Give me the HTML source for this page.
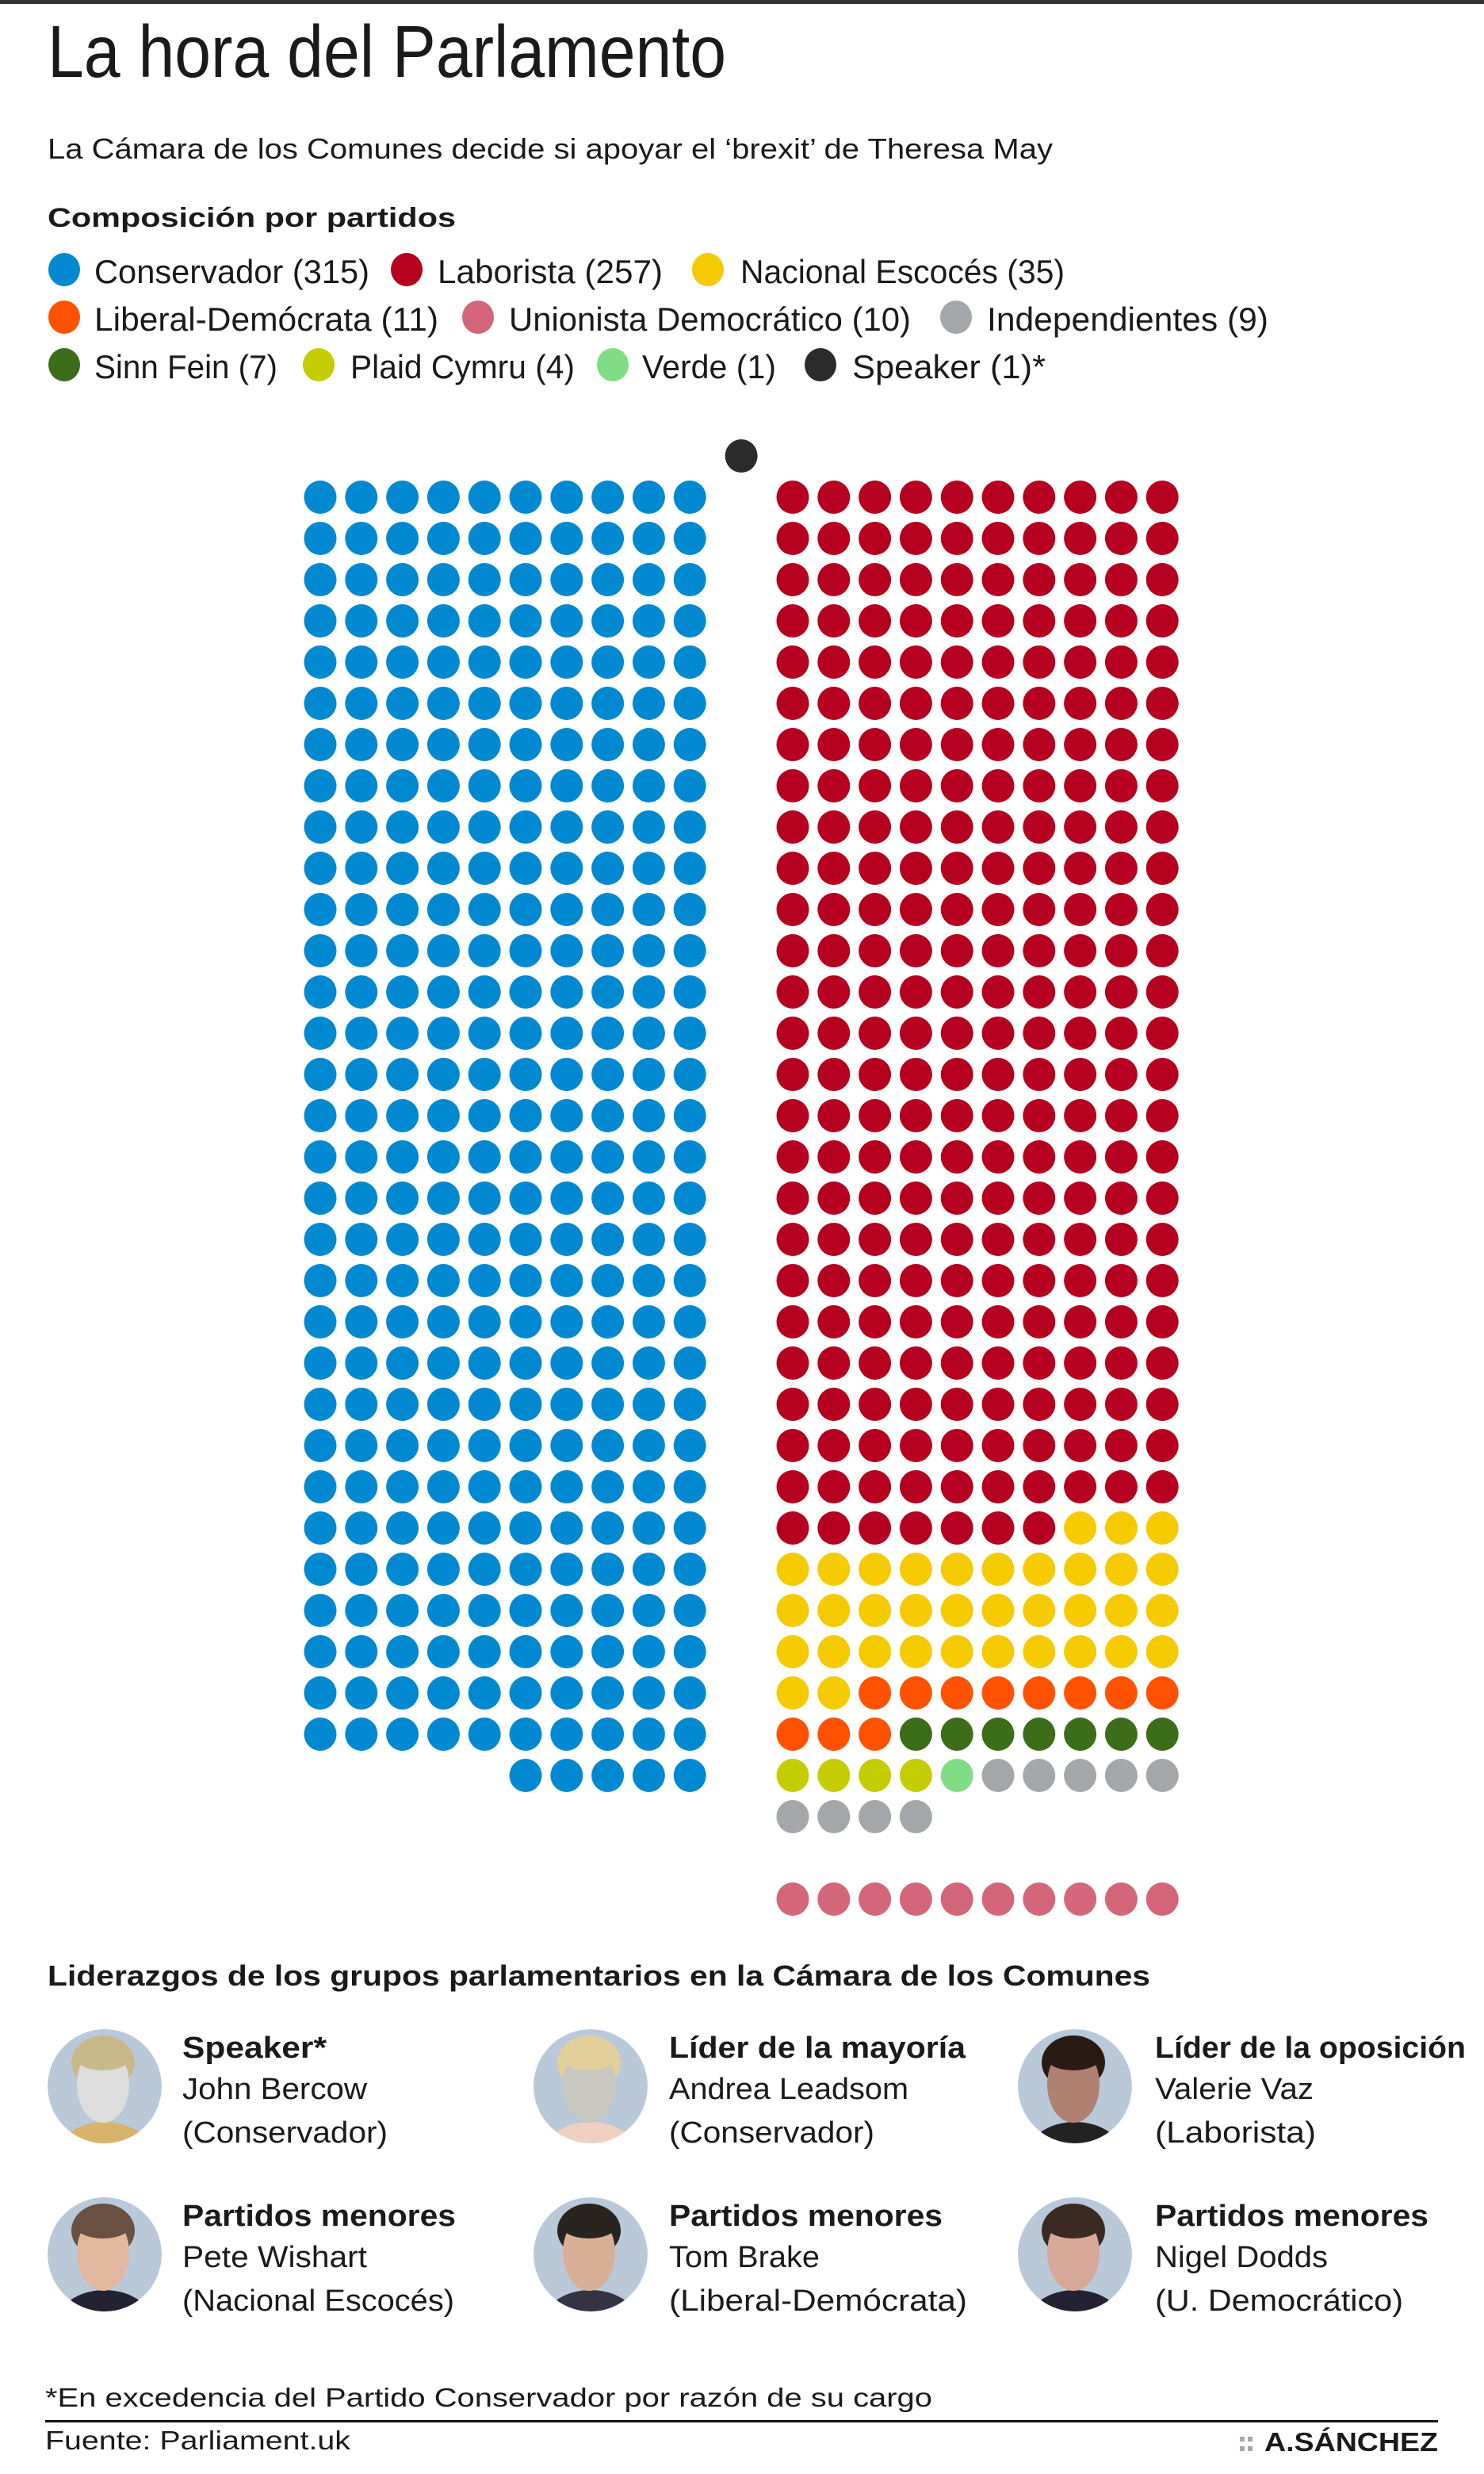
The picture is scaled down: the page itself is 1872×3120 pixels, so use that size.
<!DOCTYPE html>
<html lang="es">
<head>
<meta charset="utf-8">
<title>La hora del Parlamento</title>
<style>
  html,body{margin:0;padding:0;background:#fff;}
  svg{display:block;}
  text{font-family:"Liberation Sans Narrow","Liberation Sans",sans-serif;fill:#1a1a1a;}
  .b{font-weight:bold;}
</style>
</head>
<body>
<svg id="page" width="1872" height="3120" viewBox="0 0 1872 3120" xmlns="http://www.w3.org/2000/svg">
  <rect x="0" y="0" width="1872" height="5" fill="#333"/>
  <text x="60" y="97" font-size="93" textLength="856" lengthAdjust="spacingAndGlyphs" style="font-weight:300" fill="#222">La hora del Parlamento</text>
  <text x="60" y="200" font-size="36" textLength="1268" lengthAdjust="spacingAndGlyphs">La Cámara de los Comunes decide si apoyar el ‘brexit’ de Theresa May</text>
  <text class="b" x="60" y="286" font-size="34" textLength="515" lengthAdjust="spacingAndGlyphs">Composición por partidos</text>

  <g id="legend"></g>
  <g id="seats"></g>

  <text class="b" x="60" y="2504" font-size="36" textLength="1391" lengthAdjust="spacingAndGlyphs">Liderazgos de los grupos parlamentarios en la Cámara de los Comunes</text>
  <g id="leaders"></g>

  <text x="57" y="3035" font-size="33" textLength="1119" lengthAdjust="spacingAndGlyphs" fill="#222">*En excedencia del Partido Conservador por razón de su cargo</text>
  <rect x="57" y="3052" width="1757" height="3" fill="#111"/>
  <text x="57" y="3089" font-size="33" textLength="385" lengthAdjust="spacingAndGlyphs" fill="#222">Fuente: Parliament.uk</text>
  <g fill="#a3aab2">
    <rect x="1564" y="3073" width="6" height="6"/><rect x="1574" y="3073" width="6" height="6"/>
    <rect x="1564" y="3085" width="6" height="6"/><rect x="1574" y="3085" width="6" height="6"/>
  </g>
  <text x="1595" y="3091" font-size="33" textLength="219" lengthAdjust="spacingAndGlyphs" style="font-family:'Liberation Sans',sans-serif;font-weight:bold" fill="#1a1a1a">A.SÁNCHEZ</text>
</svg>
<script>
// ---- chart data ----
const partyNames  = ["Conservador","Laborista","Nacional Escocés","Liberal-Demócrata","Unionista Democrático","Independientes","Sinn Fein","Plaid Cymru","Verde","Speaker"];
const seatCounts  = [315, 257, 35, 11, 10, 9, 7, 4, 1, 1];
const partyColors = ["#0089d0","#b5001f","#f5cb00","#ff5200","#d4667a","#a3a7aa","#3c6e1a","#c5cc00","#80dd85","#2b2b2b"];
// order of parties filling the right-hand benches (DUP placed separately below)
const rightOrder  = ["Laborista","Nacional Escocés","Liberal-Demócrata","Sinn Fein","Plaid Cymru","Verde","Independientes"];
const legendLabels = ["Conservador (315)","Laborista (257)","Nacional Escocés  (35)","Liberal-Demócrata (11)","Unionista Democrático (10)","Independientes  (9)","Sinn Fein (7)","Plaid Cymru (4)","Verde (1)","Speaker  (1)*"];

const NS = "http://www.w3.org/2000/svg";
function mk(tag, attrs, parent){ const e=document.createElementNS(NS,tag); for(const k in attrs) e.setAttribute(k,attrs[k]); parent.appendChild(e); return e; }
function colorOf(name){ return partyColors[partyNames.indexOf(name)]; }
function countOf(name){ return seatCounts[partyNames.indexOf(name)]; }

// ---- legend ----
const legend = document.getElementById('legend');
const legendLayout = [ // [dotX, textX, textW, row]
  [81,119,347,0],[513,552,284,0],[893,934,409,0],
  [81,119,434,1],[603,642,507,1],[1206,1245,355,1],
  [81,119,231,2],[402,442,283,2],[773,810,169,2],[1035,1075,244,2]];
const legendOrder = ["Conservador","Laborista","Nacional Escocés","Liberal-Demócrata","Unionista Democrático","Independientes","Sinn Fein","Plaid Cymru","Verde","Speaker"];
legendOrder.forEach((nm,i)=>{
  const L = legendLayout[i], cy = 340 + L[3]*60;
  const g = mk('g',{},legend);
  
  
  mk('ellipse',{cx:L[0],cy:cy,rx:20,ry:21,fill:colorOf(nm)},g);
  const t = mk('text',{x:L[1],y:cy+17,'font-size':42,textLength:L[2],lengthAdjust:'spacingAndGlyphs'},g);
  t.textContent = legendLabels[partyNames.indexOf(nm)];
});

// ---- seat chart ----
const seats = document.getElementById('seats');
const colStep = 51.8, rowStep = 52, leftX0 = 404, rightX0 = 1000, rowY0 = 627, perRow = 10;
function xLeft(c){ return leftX0 + c*colStep; }
function xRight(c){ return rightX0 + c*colStep; }
function yRow(r){ return rowY0 + r*rowStep; }
function seat(cx, cy, color, name){
  const e = mk('ellipse',{cx:cx,cy:cy,rx:20.5,ry:21,fill:color},seats);
  
  
}
// speaker
seat((xLeft(9)+xRight(0))/2, rowY0 - rowStep, colorOf("Speaker"), "speaker");
// government side (left): full rows, partial last row right-aligned
const nCon = countOf("Conservador");
for(let i=0;i<nCon;i++){
  const r = Math.floor(i/perRow);
  const fullRows = Math.floor(nCon/perRow);
  let c = i%perRow;
  if(r===fullRows){ c = perRow - (nCon - fullRows*perRow) + c; }
  seat(xLeft(c), yRow(r), colorOf("Conservador"), "conservador");
}
// opposition side (right): sequential fill
let k = 0;
rightOrder.forEach(nm=>{
  for(let i=0;i<countOf(nm);i++){
    seat(xRight(k%perRow), yRow(Math.floor(k/perRow)), colorOf(nm), nm.toLowerCase().replace(/[^a-z]+/g,'-'));
    k++;
  }
});
// DUP row, separated by a gap
const dupRow = Math.ceil(k/perRow) + 1;
for(let i=0;i<countOf("Unionista Democrático");i++){
  seat(xRight(i), yRow(dupRow), colorOf("Unionista Democrático"), "dup");
}

// ---- leaders ----
const leaders = document.getElementById('leaders');
const leaderData = [
  [132,2631,230,["Speaker*",182],["John Bercow",233],["(Conservador)",259],"#c9b98a","#ddd","#d8b46a"],
  [745,2631,844,["Líder de la mayoría",374],["Andrea Leadsom",302],["(Conservador)",259],"#e3cf9a","#c8c8c0","#f0d0c0"],
  [1356,2631,1457,["Líder de la oposición",392],["Valerie Vaz",200],["(Laborista)",203],"#2a1a14","#b08070","#222"],
  [132,2843,230,["Partidos menores",345],["Pete Wishart",233],["(Nacional Escocés)",343],"#6a5040","#e0b8a0","#223"],
  [745,2843,844,["Partidos menores",345],["Tom Brake",190],["(Liberal-Demócrata)",376],"#2a2420","#d8b098","#334"],
  [1356,2843,1457,["Partidos menores",345],["Nigel Dodds",218],["(U. Democrático)",313],"#3a2a22","#d8a898","#223"]];
leaderData.forEach((d,i)=>{
  const g = mk('g',{},leaders);
  
  
  const cx=d[0], cy=d[1];
  const clipId='clip'+i;
  const cp = mk('clipPath',{id:clipId},g); mk('circle',{cx:cx,cy:cy,r:72},cp);
  const ph = mk('g',{'clip-path':'url(#'+clipId+')'},g);
  
  
  mk('circle',{cx:cx,cy:cy,r:72,fill:'#b9c9da'},ph);
  mk('ellipse',{cx:cx,cy:cy+90,rx:62,ry:45,fill:d[8]},ph);
  mk('ellipse',{cx:cx-2,cy:cy-30,rx:40,ry:34,fill:d[6]},ph);
  mk('ellipse',{cx:cx-2,cy:cy-2,rx:33,ry:48,fill:d[7]},ph);
  mk('ellipse',{cx:cx-2,cy:cy-38,rx:36,ry:18,fill:d[6]},ph);
  const lines=[d[3],d[4],d[5]], ys=[cy-36,cy+16,cy+71];
  lines.forEach((ln,j)=>{
    const t = mk('text',{x:d[2],y:ys[j],'font-size':38,textLength:ln[1],lengthAdjust:'spacingAndGlyphs'},g);
    if(j===0) t.setAttribute('class','b');
    
    
    t.textContent = ln[0];
  });
});
</script>
</body>
</html>
